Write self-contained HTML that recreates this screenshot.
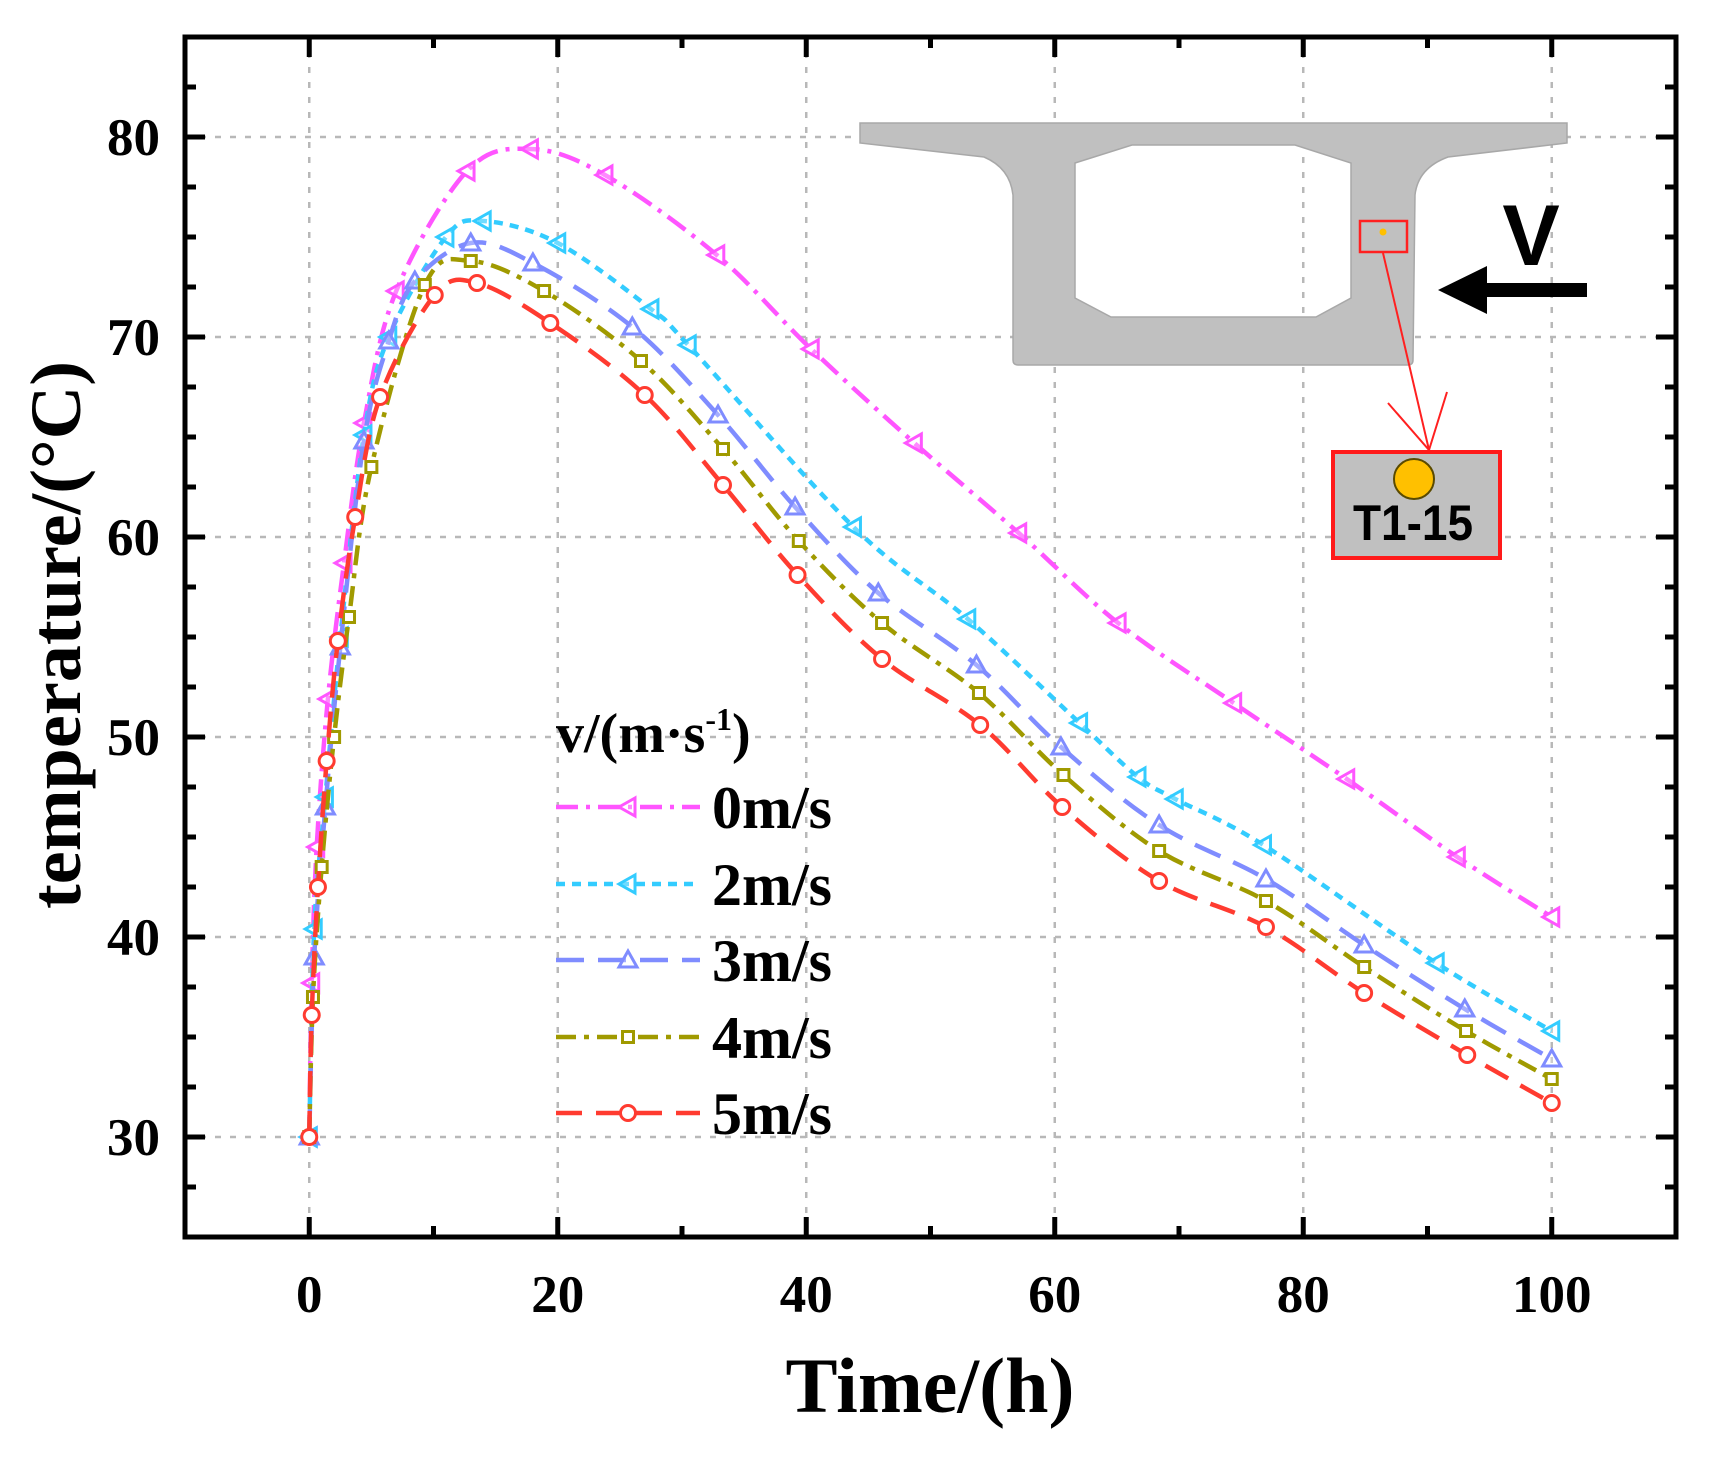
<!DOCTYPE html>
<html><head><meta charset="utf-8">
<style>
html,body{margin:0;padding:0;background:#fff;}
svg{display:block;}
text{font-family:"Liberation Serif",serif;font-weight:bold;fill:#000;}
</style></head>
<body>
<svg id="chart" width="1714" height="1463" viewBox="0 0 1714 1463" xmlns="http://www.w3.org/2000/svg">
<g id="grid"></g>
<g id="inset">
  <path fill="#c0c0c0" stroke="#a8a8a8" stroke-width="1.5" fill-rule="evenodd"
   d="M860,123 L1567,123 L1567,143 L1448,157 Q1418,168 1415,195 L1413,360 Q1413,365 1408,365 L1018,365 Q1013,365 1013,360 L1013,195 Q1010,168 984,157 L860,143 Z
      M1075,163 L1132,145 L1295,145 L1351,163 L1351,298 L1316,317 L1111,317 L1075,298 Z"/>
  <rect x="1360" y="221" width="47" height="31" fill="none" stroke="#ff2020" stroke-width="2.5"/>
  <circle cx="1383" cy="232" r="3.5" fill="#ffc000"/>
  <line x1="1383" y1="253" x2="1429" y2="450" stroke="#ff2020" stroke-width="2"/>
  <polyline points="1388,403 1429,450 1447,392" fill="none" stroke="#ff2020" stroke-width="2"/>
  <rect x="1333" y="452" width="167" height="106" fill="#c0c0c0" stroke="#ff1a1a" stroke-width="4"/>
  <ellipse cx="1414" cy="479" rx="20" ry="20" fill="#ffc000" stroke="#5a4a00" stroke-width="2"/>
  <text x="1413" y="540" text-anchor="middle" style="font-family:'Liberation Sans',sans-serif;font-size:50px;" textLength="120" lengthAdjust="spacingAndGlyphs">T1-15</text>
  <text x="1531" y="265" text-anchor="middle" style="font-family:'Liberation Sans',sans-serif;font-weight:bold;font-size:86px;">V</text>
  <path d="M1438,290 L1487,266 L1487,283 L1587,283 L1587,297 L1487,297 L1487,314 Z" fill="#000"/>
</g>
<g id="series"></g>
<g id="axes"></g>
<g id="legend"></g>
<text x="930" y="1412" text-anchor="middle" style="font-size:78px;">Time/(h)</text>
<text transform="translate(80,635) rotate(-90)" text-anchor="middle" style="font-size:72px;" textLength="548" lengthAdjust="spacingAndGlyphs">temperature/(°C)</text>
</svg>
<script>
// ---- data ----
const xTicks = [0, 20, 40, 60, 80, 100];
const yTicks = [30, 40, 50, 60, 70, 80];
const seriesNames = ["0m/s", "2m/s", "3m/s", "4m/s", "5m/s"];
const t0 = [0,0.2,0.6,1.5,2.8,4.4,7,12.7,17.8,23.8,32.8,40.4,48.7,57.1,65.1,74.4,83.5,92.4,100];
const v0 = [30,37.7,44.5,51.9,58.7,65.7,72.3,78.3,79.4,78.1,74.1,69.4,64.7,60.2,55.7,51.7,47.9,44.0,41.0];
const t2 = [0,0.4,1.3,2.5,4.4,6.4,11,14,20,27.5,30.5,43.8,53,62,66.7,69.7,76.8,90.7,100];
const v2 = [30,40.4,47,55,65.1,70,75,75.8,74.7,71.4,69.6,60.5,55.9,50.7,48.0,46.9,44.6,38.7,35.3];
const t3 = [0,0.4,1.3,2.5,4.4,6.4,8.5,13,18,26,32.9,39.1,45.8,53.7,60.5,68.4,77,84.9,93,100];
const v3 = [30,39,46.5,54.5,64.8,69.8,72.8,74.7,73.7,70.5,66.1,61.5,57.2,53.6,49.5,45.6,42.9,39.6,36.4,33.9];
const t4 = [0,0.3,1,2,3.2,5,9.3,13,18.9,26.7,33.3,39.4,46.1,53.9,60.7,68.4,77,84.9,93.1,100];
const v4 = [30,37,43.5,50,56,63.5,72.6,73.8,72.3,68.8,64.4,59.8,55.7,52.2,48.1,44.3,41.8,38.5,35.3,32.9];
const t5 = [0,0.2,0.7,1.4,2.3,3.7,5.7,10.1,13.5,19.4,27,33.3,39.3,46.1,54,60.6,68.4,77,84.9,93.2,100];
const v5 = [30,36.1,42.5,48.8,54.8,61,67,72.1,72.7,70.7,67.1,62.6,58.1,53.9,50.6,46.5,42.8,40.5,37.2,34.1,31.7];

const NS = "http://www.w3.org/2000/svg";
const L = 185, R = 1676, T = 37, B = 1237;
const xMin = -10, xMax = 110, yMin = 25, yMax = 85;
function xs(v){ return L + (v - xMin) / (xMax - xMin) * (R - L); }
function ys(v){ return B - (v - yMin) / (yMax - yMin) * (B - T); }
function mk(tag, attrs, parent){ const e = document.createElementNS(NS, tag); for (const k in attrs) e.setAttribute(k, attrs[k]); parent.appendChild(e); return e; }

const grid = document.getElementById('grid');
xTicks.forEach(v => {
  const g = mk('line', {x1: xs(v), x2: xs(v), y1: T, y2: B, stroke: '#b8b8b8', 'stroke-width': 2.5, 'stroke-dasharray': '6 9'}, grid);
  
  
});
yTicks.forEach(v => {
  const g = mk('line', {x1: L, x2: R, y1: ys(v), y2: ys(v), stroke: '#b8b8b8', 'stroke-width': 2.5, 'stroke-dasharray': '6 9'}, grid);
  
  
});

function pathFrom(tt, vv){
  const p = tt.map((t,i) => [xs(t), ys(vv[i])]);
  let d = `M${p[0][0]},${p[0][1]}`;
  for (let i = 0; i < p.length - 1; i++){
    const p0 = p[Math.max(0,i-1)], p1 = p[i], p2 = p[i+1], p3 = p[Math.min(p.length-1,i+2)];
    const c1 = [p1[0] + (p2[0]-p0[0])/6, p1[1] + (p2[1]-p0[1])/6];
    const c2 = [p2[0] - (p3[0]-p1[0])/6, p2[1] - (p3[1]-p1[1])/6];
    d += ` C${c1[0]},${c1[1]} ${c2[0]},${c2[1]} ${p2[0]},${p2[1]}`;
  }
  return d;
}
const styles = [
  {color:'#ff55ff', dash:'22 8 4 8', marker:'left'},
  {color:'#33ccff', dash:'9 7', marker:'left'},
  {color:'#7f8cff', dash:'28 14', marker:'up'},
  {color:'#a09a00', dash:'20 8 5 8', marker:'square'},
  {color:'#ff3b30', dash:'26 14', marker:'circle'}
];
function marker(g, type, x, y, color){
  let e;
  if (type === 'left') e = mk('polygon', {points: `${x-9},${y} ${x+7},${y-9} ${x+7},${y+9}`, fill:'#fff', 'fill-opacity':0.3, stroke: color, 'stroke-width': 3}, g);
  else if (type === 'up') e = mk('polygon', {points: `${x},${y-9} ${x-9},${y+7} ${x+9},${y+7}`, fill:'#fff', 'fill-opacity':0.3, stroke: color, 'stroke-width': 3}, g);
  else if (type === 'square') e = mk('rect', {x: x-5.5, y: y-5.5, width: 11, height: 11, fill:'#fff', stroke: color, 'stroke-width': 3}, g);
  else e = mk('circle', {cx: x, cy: y, r: 7.5, fill:'#fff', stroke: color, 'stroke-width': 3}, g);
  
  
}
const sg = document.getElementById('series');
const allT = [t0, t2, t3, t4, t5], allV = [v0, v2, v3, v4, v5];
allT.forEach((tt, i) => {
  const g = mk('g', {}, sg);
  
  
  const p = mk('path', {d: pathFrom(tt, allV[i]), fill: 'none', stroke: styles[i].color, 'stroke-width': 4.5, 'stroke-dasharray': styles[i].dash}, g);
  
  
  tt.forEach((t, j) => marker(g, styles[i].marker, xs(t), ys(allV[i][j]), styles[i].color));
});

const ax = document.getElementById('axes');
const frame = mk('rect', {x: L, y: T, width: R-L, height: B-T, fill: 'none', stroke: '#000', 'stroke-width': 5}, ax);


for (let v = -10; v <= 110; v += 10){
  if (v === xMin || v === xMax) continue;
  const len = (v % 20 === 0) ? 20 : 11;
  [[B, B-len],[T, T+len]].forEach(([a,b]) => {
    const l = mk('line', {x1: xs(v), x2: xs(v), y1: a, y2: b, stroke: '#000', 'stroke-width': 5}, ax);
    
    
  });
}
for (let v = 27.5; v < 85; v += 2.5){
  const len = (v % 10 === 0) ? 20 : 11;
  [[L, L+len],[R, R-len]].forEach(([a,b]) => {
    const l = mk('line', {x1: a, x2: b, y1: ys(v), y2: ys(v), stroke: '#000', 'stroke-width': 5}, ax);
    
    
  });
}
xTicks.forEach(v => {
  const t = mk('text', {x: xs(v), y: 1312, 'text-anchor': 'middle', style: 'font-size:53px'}, ax);
  t.textContent = v;
  
  
});
yTicks.forEach(v => {
  const t = mk('text', {x: 160, y: ys(v) + 18, 'text-anchor': 'end', style: 'font-size:53px'}, ax);
  t.textContent = v;
  
  
});

const lg = document.getElementById('legend');
const title = mk('text', {x: 556, y: 752, style: 'font-size:56px'}, lg);
title.innerHTML = 'v/(m·s<tspan dy="-22" style="font-size:32px">-1</tspan><tspan dy="22">)</tspan>';


const legY = [807, 884, 960, 1037, 1113];
seriesNames.forEach((n, i) => {
  const g = mk('g', {}, lg);
  
  
  const l = mk('line', {x1: 556, x2: 700, y1: legY[i], y2: legY[i], stroke: styles[i].color, 'stroke-width': 4.5, 'stroke-dasharray': styles[i].dash}, g);
  
  
  marker(g, styles[i].marker, 628, legY[i], styles[i].color);
  const t = mk('text', {x: 712, y: legY[i] + 21, style: 'font-size:60px'}, g);
  t.textContent = n;
  
  
});
</script>
</body></html>
